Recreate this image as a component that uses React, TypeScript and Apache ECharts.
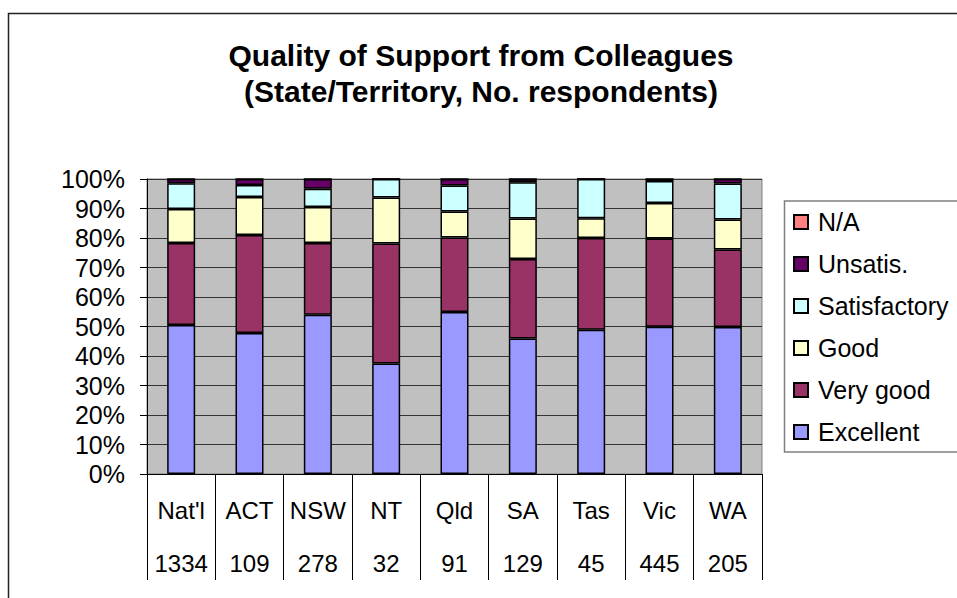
import React, { useEffect, useRef } from "react";
import * as echarts from "echarts";

const categories = ["Nat'l", "ACT", "NSW", "NT", "Qld", "SA", "Tas", "Vic", "WA"];
const respondents = ["1334", "109", "278", "32", "91", "129", "45", "445", "205"];
const yTicks = [0, 10, 20, 30, 40, 50, 60, 70, 80, 90, 100];

const excellent = [50.5, 47.8, 54.0, 37.5, 54.9, 45.9, 48.9, 49.9, 49.8];
const veryGood = [27.8, 33.2, 24.3, 40.6, 25.3, 27.0, 31.1, 29.9, 26.3];
const good = [11.5, 12.9, 12.2, 15.6, 8.8, 13.7, 6.7, 12.1, 10.2];
const satisfactory = [8.8, 4.1, 6.2, 6.3, 8.8, 12.3, 13.3, 7.4, 12.2];
const unsatis = [1.4, 2.0, 3.3, 0, 2.2, 1.1, 0, 0.7, 1.5];
const notApplicable = [0, 0, 0, 0, 0, 0, 0, 0, 0];

const seriesNames = ["Excellent", "Very good", "Good", "Satisfactory", "Unsatis.", "N/A"];
const seriesColors = ["#9999FF", "#993366", "#FFFFCC", "#CCFFFF", "#660066", "#FF8080"];
const seriesData = [excellent, veryGood, good, satisfactory, unsatis, notApplicable];

const titleLines = ["Quality of Support from Colleagues", "(State/Territory, No. respondents)"];

const FONT = "'Liberation Sans', Arial, Helvetica, sans-serif";

export default function App() {
  const ref = useRef<HTMLDivElement>(null);
  useEffect(() => {
    if (!ref.current) return;
    const chart = echarts.init(ref.current, undefined, { renderer: "svg" });
    chart.setOption({
      animation: false,
      backgroundColor: "#ffffff",
      graphic: [
        {
          type: "rect",
          z: -10,
          shape: { x: 8.5, y: 13.5, width: 1200, height: 800 },
          style: { fill: "none", stroke: "#222", lineWidth: 1.5 },
          silent: true,
        },
        {
          type: "rect",
          z: 0,
          shape: { x: 784.5, y: 201, width: 400, height: 251 },
          style: { fill: "#fff", stroke: "#808080", lineWidth: 1.5 },
          silent: true,
        },
        {
          type: "text",
          z: 5,
          x: 481,
          y: 37,
          style: {
            text: titleLines.join("\n"),
            fontFamily: FONT,
            fontSize: 30,
            fontWeight: "bold",
            fill: "#000",
            lineHeight: 36,
            align: "center",
            verticalAlign: "top",
          },
          silent: true,
        },
      ],
      legend: {
        orient: "vertical",
        left: 793,
        top: 208,
        padding: 0,
        itemWidth: 14,
        itemHeight: 14,
        itemGap: 14,
        icon: "rect",
        data: seriesNames.slice().reverse(),
        textStyle: {
          fontFamily: FONT,
          fontSize: 25,
          color: "#000",
          lineHeight: 28,
          padding: [0, 0, 0, 5],
        },
      },
      grid: {
        left: 147,
        right: 195,
        top: 179,
        bottom: 124,
        show: true,
        backgroundColor: "#C0C0C0",
        borderColor: "#808080",
        borderWidth: 1,
      },
      xAxis: {
        type: "category",
        data: categories,
        boundaryGap: true,
        axisLine: { show: true, lineStyle: { color: "#000", width: 1 } },
        axisTick: {
          show: true,
          interval: 0,
          length: 106,
          lineStyle: { color: "#000", width: 1 },
        },
        axisLabel: {
          interval: 0,
          margin: 9.5,
          fontFamily: FONT,
          fontSize: 24,
          color: "#000",
          lineHeight: 53,
          formatter: (v: string, idx: number) => `${v}\n${respondents[idx]}`,
        },
      },
      yAxis: {
        type: "value",
        min: yTicks[0],
        max: yTicks[yTicks.length - 1],
        interval: 10,
        axisLine: { show: true, lineStyle: { color: "#000", width: 1 } },
        axisTick: { show: true, length: 7, lineStyle: { color: "#000" } },
        axisLabel: {
          margin: 22,
          fontFamily: FONT,
          fontSize: 25,
          color: "#000",
          formatter: "{value}%",
        },
        splitLine: { show: true, lineStyle: { color: "#333", width: 1 } },
      },
      series: seriesNames.map((name, i) => ({
        name,
        type: "bar",
        stack: "total",
        barWidth: 28,
        data: seriesData[i],
        itemStyle: {
          color: seriesColors[i],
          borderColor: "#000",
          borderWidth: 1.5,
        },
      })),
    });
    return () => chart.dispose();
  }, []);
  return (
    <div
      ref={ref}
      style={{ position: "absolute", left: 0, top: 0, width: 957, height: 598 }}
    />
  );
}
